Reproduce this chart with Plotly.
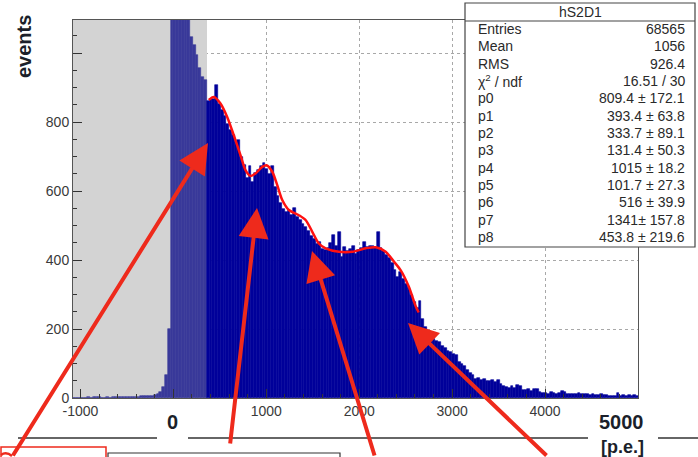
import plotly.graph_objects as go

# ---------------- data ----------------
bin_width = 30
first_edge = -1080

# grey (pedestal) region bins, from -1080 to 360
counts_pedestal = [0, 1, 1, 0, 1, 2, 1, 2, 3, 3,
                   1, 1, 2, 1, 2, 2, 3, 4, 4, 3,
                   2, 2, 3, 4, 5, 5, 6, 6, 7, 8,
                   11, 18, 33, 67, 200, 1500, 2600, 3300, 3100, 2500,
                   1900, 1200, 1046, 1023, 994, 956, 930, 922]

# signal region bins, from 360 to 5010
counts_signal = [862, 868, 866, 907, 852, 836, 818, 795, 776, 764,
                 742, 748, 700, 676, 638, 672, 625, 652, 660, 672,
                 682, 664, 650, 672, 612, 586, 565, 548, 538, 545,
                 530, 552, 525, 515, 505, 495, 484, 470, 462, 446,
                 452, 432, 430, 436, 450, 472, 440, 480, 410, 438,
                 425, 432, 442, 418, 430, 436, 452, 438, 440, 442,
                 436, 480, 435, 425, 415, 405, 392, 372, 352, 365,
                 345, 330, 318, 300, 278, 262, 280, 230, 206, 195,
                 180, 172, 166, 162, 150, 146, 136, 132, 128, 125,
                 104, 100, 92, 80, 72, 66, 55, 58, 52, 54,
                 50, 48, 52, 47, 53, 42, 34, 33, 30, 35,
                 30, 38, 36, 24, 22, 25, 21, 27, 25, 18,
                 14, 15, 13, 16, 14, 12, 15, 19, 18, 12,
                 13, 11, 12, 14, 11, 13, 12, 10, 12, 10,
                 9, 11, 9, 10, 6, 7, 5, 14, 6, 8,
                 7, 8, 6, 9, 7]

# fitted function
fit_x = [381, 435, 507, 579, 650, 722, 776, 830, 884, 956, 1003, 1064, 1118,
         1172, 1243, 1351, 1423, 1495, 1566, 1639, 1782, 1926, 2070, 2178,
         2285, 2375, 2447, 2533, 2609, 2640]
fit_y = [864, 873, 854, 815, 762, 704, 661, 644, 651, 670, 675, 656, 617,
         574, 545, 530, 516, 482, 448, 434, 424, 424, 434, 437,
         424, 395, 370, 323, 265, 248]

stats_title = "hS2D1"
stats_labels = ["Entries", "Mean", "RMS", "χ<sup>2</sup> / ndf", "p0", "p1", "p2",
                "p3", "p4", "p5", "p6", "p7", "p8"]
stats_values = ["68565", "1056", "926.4", "16.51 / 30", "809.4 ± 172.1",
                "393.4 ± 63.8", "333.7 ± 89.1", "131.4 ± 50.3", "1015 ± 18.2",
                "101.7 ± 27.3", "516 ± 39.9", "1341± 157.8", "453.8 ± 219.6"]

x_tick_vals = [-1000, 0, 1000, 2000, 3000, 4000, 5000]
x_tick_text = ["-1000", "", "1000", "2000", "3000", "4000", ""]
y_tick_vals = [0, 200, 400, 600, 800, 1000]
y_tick_text = ["0", "200", "400", "600", "800", ""]

x_range = [-1080, 5000]
y_range = [0, 1096]
pedestal_cut = 360

# ---------------- figure ----------------
W, H = 698, 457
def px(xp):
    return xp / W
def py(yp):
    return 1 - yp / H

ped_edges = [first_edge + bin_width * i for i in range(len(counts_pedestal))]
sig_start = first_edge + bin_width * len(counts_pedestal)
sig_edges = [sig_start + bin_width * i for i in range(len(counts_signal))]

NAVY = "#00009a"
NAVY_LIGHT = "#39399a"
RED = "#ee2a1c"

fig = go.Figure()
# grey pedestal band (a wide bar, drawn first so it covers the grid but sits below the histogram)
fig.add_trace(go.Bar(x=[(x_range[0] + pedestal_cut) / 2], y=[y_range[1]],
                     width=pedestal_cut - x_range[0],
                     marker=dict(color="#d3d3d3", line=dict(width=0)),
                     showlegend=False, hoverinfo="skip"))
fig.add_trace(go.Bar(x=[e + bin_width / 2 for e in ped_edges], y=counts_pedestal,
                     width=bin_width, marker=dict(color=NAVY_LIGHT, line=dict(width=0.6, color=NAVY_LIGHT)),
                     showlegend=False, hoverinfo="skip"))
fig.add_trace(go.Bar(x=[e + bin_width / 2 for e in sig_edges], y=counts_signal,
                     width=bin_width, marker=dict(color=NAVY, line=dict(width=0.6, color=NAVY)),
                     showlegend=False, hoverinfo="skip"))
fig.add_trace(go.Scatter(x=fit_x, y=fit_y, mode="lines",
                         line=dict(color="#ff1010", width=2.5, shape="spline", smoothing=0.8),
                         showlegend=False, hoverinfo="skip"))

tickfont = dict(family="Liberation Sans, Arial, sans-serif", size=14, color="#3a3a3a")
fig.update_layout(
    width=W, height=H, margin=dict(l=0, r=0, t=0, b=0, autoexpand=False),
    paper_bgcolor="white", plot_bgcolor="white", bargap=0, barmode="overlay",
    xaxis=dict(domain=[px(73), px(638)], range=x_range, tickvals=x_tick_vals, ticktext=x_tick_text,
               ticks="inside", ticklen=9, tickcolor="#333", tickwidth=1,
               minor=dict(ticks="inside", ticklen=4, dtick=200, tick0=0, tickcolor="#333", showgrid=False),
               showline=True, linecolor="#555", linewidth=1, mirror=True,
               showgrid=True, gridcolor="#a8a8a8", griddash="dot", gridwidth=1,
               zeroline=False, tickfont=tickfont, automargin=False),
    yaxis=dict(domain=[py(398), py(20)], range=y_range, tickvals=y_tick_vals, ticktext=y_tick_text,
               ticks="inside", ticklen=9, tickcolor="#333", tickwidth=1,
               minor=dict(ticks="inside", ticklen=4, dtick=50, tick0=0, tickcolor="#333", showgrid=False),
               showline=True, linecolor="#555", linewidth=1, mirror=True,
               showgrid=True, gridcolor="#a8a8a8", griddash="dot", gridwidth=1,
               zeroline=False, tickfont=tickfont, automargin=False),
)

shapes = []
# stats box
shapes.append(dict(type="rect", xref="paper", yref="paper", x0=px(465), x1=px(695), y0=py(247), y1=py(3),
                   fillcolor="white", line=dict(color="#444", width=1.2), layer="above"))
shapes.append(dict(type="line", xref="paper", yref="paper", x0=px(465), x1=px(695), y0=py(21), y1=py(21),
                   line=dict(color="#444", width=1.2), layer="above"))
# slide decoration lines below the plot
for a, b in [(18, 157), (188, 588), (658, 698)]:
    shapes.append(dict(type="line", xref="paper", yref="paper", x0=px(a), x1=px(b), y0=py(438), y1=py(438),
                       line=dict(color="#333", width=1.5), layer="above"))
shapes.append(dict(type="path", xref="paper", yref="paper",
                   path=f"M {px(1)},{py(457)} L {px(1)},{py(447)} L {px(106)},{py(447)} L {px(106)},{py(457)}",
                   line=dict(color=RED, width=1.5), layer="above"))
shapes.append(dict(type="path", xref="paper", yref="paper",
                   path=f"M {px(108)},{py(457)} L {px(108)},{py(453)} L {px(340)},{py(453)} L {px(340)},{py(457)}",
                   line=dict(color="#333", width=1.2), layer="above"))
shapes.append(dict(type="path", xref="paper", yref="paper",
                   path=f"M {px(1)},{py(455)} Q {px(6)},{py(451)} {px(12)},{py(456)}",
                   line=dict(color=RED, width=2.5), layer="above"))
fig.update_layout(shapes=shapes)

ann = []
statfont = dict(family="Liberation Sans, Arial, sans-serif", size=14, color="#2a2a2a")
ann.append(dict(xref="paper", yref="paper", x=px(580), y=py(12), text=stats_title, showarrow=False,
                xanchor="center", yanchor="middle", font=statfont))
for i, (lab, val) in enumerate(zip(stats_labels, stats_values)):
    yy = py(29 + 17.33 * i)
    ann.append(dict(xref="paper", yref="paper", x=px(476), y=yy, text=lab, showarrow=False,
                    xanchor="left", yanchor="middle", font=statfont))
    ann.append(dict(xref="paper", yref="paper", x=px(687), y=yy, text=val, showarrow=False,
                    xanchor="right", yanchor="middle", font=statfont))

boldfont = dict(family="Liberation Sans, Arial, sans-serif", size=20, color="#1b1f2a")
ann.append(dict(xref="paper", yref="paper", x=px(24), y=py(47), text="<b>events</b>", textangle=-90,
                showarrow=False, xanchor="center", yanchor="middle", font=boldfont))
ann.append(dict(xref="paper", yref="paper", x=px(172), y=py(422), text="<b>0</b>",
                showarrow=False, xanchor="center", yanchor="middle", font=boldfont))
ann.append(dict(xref="paper", yref="paper", x=px(621), y=py(422), text="<b>5000</b>",
                showarrow=False, xanchor="center", yanchor="middle", font=boldfont))
ann.append(dict(xref="paper", yref="paper", x=px(622), y=py(447), text="<b>[p.e.]</b>",
                showarrow=False, xanchor="center", yanchor="middle",
                font=dict(family="Liberation Sans, Arial, sans-serif", size=18, color="#1b1f2a")))

# red arrows (tip, tail offset in pixels)
arrows = [((208, 143), (-196, 322)), ((257, 208), (-27, 237)),
          ((312, 251), (63, 214)), ((408, 323), (140, 142))]
for (tx, ty), (dx, dy) in arrows:
    ann.append(dict(xref="paper", yref="paper", x=px(tx), y=py(ty), ax=dx, ay=dy, text="",
                    showarrow=True, arrowhead=2, arrowsize=1.5, arrowwidth=4, arrowcolor=RED, standoff=0))
fig.update_layout(annotations=ann)

fig.write_html("out.html")
